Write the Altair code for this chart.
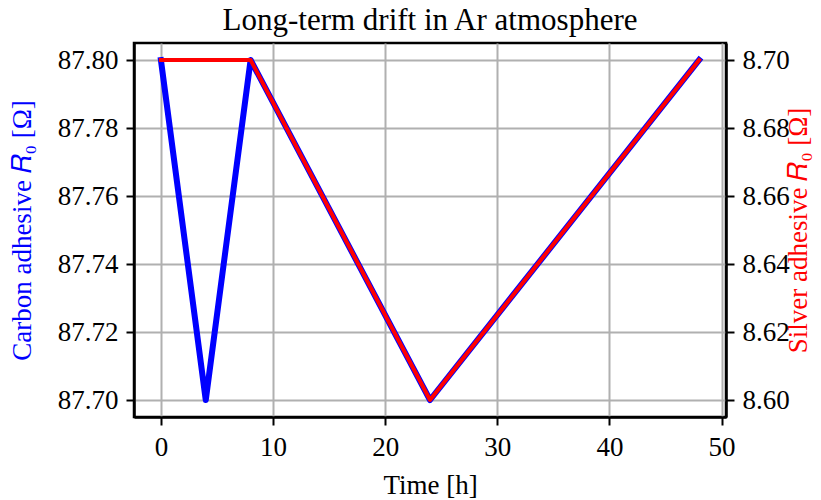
import altair as alt
import pandas as pd

carbon_time = [0, 4, 8, 24, 48]
carbon_r0 = [87.80, 87.70, 87.80, 87.70, 87.80]
silver_time = [0, 8, 24, 48]
silver_r0 = [8.70, 8.70, 8.60, 8.70]
x_ticks = [0, 10, 20, 30, 40, 50]
left_ticks = [87.70, 87.72, 87.74, 87.76, 87.78, 87.80]
right_ticks = [8.60, 8.62, 8.64, 8.66, 8.68, 8.70]

carbon = pd.DataFrame({"t": carbon_time, "r": carbon_r0})
silver = pd.DataFrame({"t": silver_time, "r": silver_r0})

FONT = "Liberation Serif"

x_enc = alt.X(
    "t:Q",
    scale=alt.Scale(domain=[-2.4, 50.4], nice=False, zero=False),
    axis=alt.Axis(values=x_ticks, format="d", title="Time [h]",
                  labelPadding=9, titlePadding=12),
)

blue = alt.Chart(carbon).mark_line(
    color="#0000ff", strokeWidth=6, strokeCap="square", strokeJoin="round"
).encode(
    x=x_enc,
    y=alt.Y(
        "r:Q",
        scale=alt.Scale(domain=[87.695, 87.805], nice=False, zero=False),
        axis=alt.Axis(values=left_ticks, format=".2f",
                      title="Carbon adhesive 𝑅₀ [Ω]", titleColor="#0000ff",
                      labelPadding=8, titlePadding=21),
    ),
)

red = alt.Chart(silver).mark_line(
    color="#ff0000", strokeWidth=4, strokeCap="square", strokeJoin="round"
).encode(
    x=x_enc,
    y=alt.Y(
        "r:Q",
        scale=alt.Scale(domain=[8.595, 8.705], nice=False, zero=False),
        axis=alt.Axis(values=right_ticks, format=".2f", orient="right", grid=False,
                      title="Silver adhesive 𝑅₀ [Ω]", titleColor="#ff0000",
                      titleAngle=270, labelPadding=8, titlePadding=23),
    ),
)

chart = alt.layer(blue, red).resolve_scale(y="independent").properties(
    width=592,
    height=374,
    autosize=alt.AutoSizeParams(type="none"),
    padding={"left": 126, "top": 35, "right": 87, "bottom": 81},
    title=alt.TitleParams(
        "Long-term drift in Ar atmosphere",
        font=FONT, fontSize=31, fontWeight="normal", color="black",
        offset=6, anchor="middle",
    ),
).configure_view(
    stroke="black", strokeWidth=2.5
).configure_axis(
    labelFont=FONT, labelFontSize=27, labelColor="black",
    titleFont=FONT, titleFontSize=27, titleFontWeight="normal",
    domainColor="black", domainWidth=2.5,
    tickColor="black", tickWidth=2, tickSize=8,
    gridColor="#b0b0b0", gridWidth=2,
)

chart.save("out.html", embed_options={"renderer": "svg", "actions": False})
